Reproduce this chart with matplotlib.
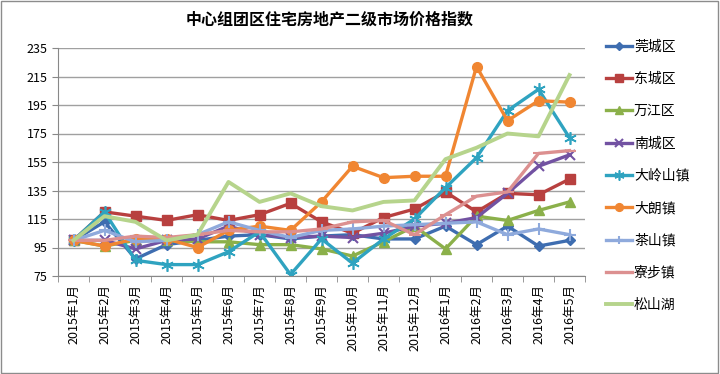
import matplotlib
matplotlib.use('Agg')
import matplotlib.pyplot as plt
from matplotlib.patches import Rectangle
from matplotlib.ticker import FixedLocator

plt.rcParams['font.family'] = ['Noto Sans CJK SC', 'DejaVu Sans']

months = ['2015年1月', '2015年2月', '2015年3月', '2015年4月', '2015年5月', '2015年6月',
          '2015年7月', '2015年8月', '2015年9月', '2015年10月', '2015年11月', '2015年12月',
          '2016年1月', '2016年2月', '2016年3月', '2016年4月', '2016年5月']

guancheng = [100, 113, 87, 97, 100, 103, 104, 101, 103, 104, 101, 101, 110, 97, 110, 96, 100]
dongcheng = [100, 120, 117, 114, 118, 114, 118, 126, 113, 105, 116, 122, 134, 120, 133, 132, 143]
wanjiang = [100, 96, 100, 100, 99, 99, 97, 97, 94, 89, 99, 110, 94, 117, 114, 121, 127]
nancheng = [100, 100, 94, 100, 101, 110, 104, 102, 103, 102, 105, 110, 112, 116, 133, 152, 160]
dalingshan = [100, 120, 86, 83, 83, 92, 106, 76, 101, 84, 101, 115, 137, 158, 191, 206, 172]
dalang = [100, 96, 101, 101, 95, 107, 110, 107, 127, 152, 144, 145, 145, 222, 184, 198, 197]
chashan = [100, 107, 99, 100, 104, 113, 107, 102, 107, 108, 110, 111, 112, 113, 104, 108, 104]
liaobu = [100, 100, 103, 102, 104, 107, 106, 106, 108, 113, 114, 104, 118, 131, 134, 161, 163]
songshanhu = [100, 117, 113, 100, 104, 141, 127, 133, 124, 121, 127, 128, 157, 165, 175, 173, 216]

series = [
    ('莞城区', guancheng, '#3E6DB0', 'D', 5),
    ('东城区', dongcheng, '#B8403F', 's', 7),
    ('万江区', wanjiang, '#8BB04A', '^', 7),
    ('南城区', nancheng, '#7252A2', 'x', 7),
    ('大岭山镇', dalingshan, '#2FA3C0', '*', 0),
    ('大朗镇', dalang, '#F08632', 'o', 7),
    ('茶山镇', chashan, '#8FAADC', '+', 8),
    ('寮步镇', liaobu, '#DC9090', '_', 8),
    ('松山湖', songshanhu, '#B6D48C', '', 0),
]

fig = plt.figure(figsize=(7.2, 3.74), dpi=100)
ax = fig.add_axes([58 / 720, 1 - 276 / 374, (585 - 58) / 720, (276 - 48) / 374])

x = list(range(len(months)))
for name, vals, color, marker, ms in series:
    if name == '大岭山镇':
        ax.plot(x, vals, color=color, lw=2.4, label=name, marker=(6, 2, 0),
                markersize=9, markeredgewidth=1.2, markeredgecolor=color)
    elif marker in ('x', '+', '_'):
        ax.plot(x, vals, color=color, lw=2.4, label=name, marker=marker,
                markersize=ms, markeredgewidth=1.5)
    elif marker == '':
        ax.plot(x, vals, color=color, lw=2.8, label=name)
    else:
        ax.plot(x, vals, color=color, lw=2.4, label=name, marker=marker,
                markersize=ms, markeredgecolor=color)

ax.set_ylim(75, 235)
ax.set_yticks(range(75, 236, 20))
ax.set_xlim(-0.5, len(months) - 0.5)
ax.set_xticks(x)
ax.set_xticklabels(months, rotation=90, fontsize=9)
ax.xaxis.set_minor_locator(FixedLocator([i - 0.5 for i in range(len(months) + 1)]))
ax.tick_params(axis='x', which='major', length=0, pad=6)
ax.tick_params(axis='x', which='minor', length=4, color='#888888')
ax.tick_params(axis='y', length=4, color='#888888', labelsize=9)
ax.grid(axis='y', color='#A0A0A0', lw=1)
ax.set_axisbelow(True)
for s in ['top', 'right']:
    ax.spines[s].set_visible(False)
for s in ['left', 'bottom']:
    ax.spines[s].set_color('#888888')

fig.text(330 / 720, 1 - 20 / 374, '中心组团区住宅房地产二级市场价格指数',
         ha='center', va='center', fontsize=11.5, fontweight='bold')

# legend handles are smaller in the reference
leg = ax.legend(loc='upper left', bbox_to_anchor=(593 / 720, 1 - 27 / 374),
                bbox_transform=fig.transFigure, frameon=False, fontsize=10,
                labelspacing=1.32, handlelength=1.9, handletextpad=0.15,
                markerscale=0.8)

fig.patches.append(Rectangle((0.002, 0.003), 0.995, 0.993, transform=fig.transFigure,
                             fill=False, edgecolor='#8C8C8C', lw=1))

fig.savefig('out.png', dpi=100)
